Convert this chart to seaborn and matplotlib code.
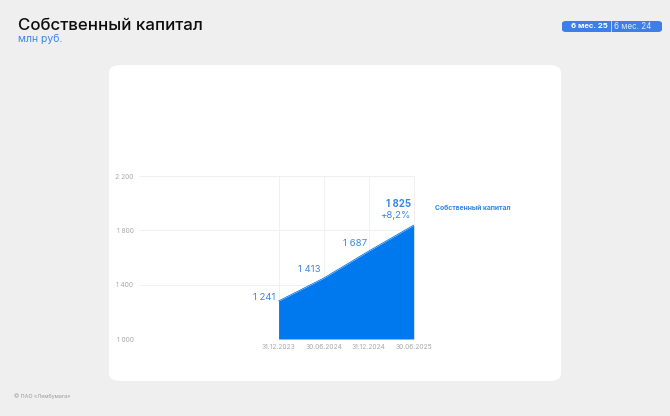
import matplotlib
matplotlib.use("Agg")
import matplotlib.pyplot as plt
from matplotlib.patches import FancyBboxPatch
import seaborn as sns
import pandas as pd

DATES = ["31.12.2023", "30.06.2024", "31.12.2024", "30.06.2025"]
# heights of the drawn area (the printed labels are below)
EQUITY_DRAWN = [1280, 1448, 1647, 1838]
VALUE_LABELS = ["1 241", "1 413", "1 687", "1 825"]
GROWTH_LABEL = "+8,2%"
Y_TICKS = [1000, 1400, 1800, 2200]
Y_TICK_LABELS = ["1 000", "1 400", "1 800", "2 200"]

BG = "#efefef"
FILL = "#0078ee"
LABEL_BLUE = "#3a86e4"
GREY = "#a8a8a8"

sns.set_theme(style="white")
plt.rcParams["font.family"] = ["Inter", "DejaVu Sans"]

data = pd.DataFrame({"pos": range(len(DATES)), "date": DATES, "equity": EQUITY_DRAWN})

fig = plt.figure(figsize=(6.7, 4.16), dpi=100, facecolor=BG)

# white card behind the chart
card = FancyBboxPatch((109 / 670, 1 - 381 / 416), 452 / 670, 316 / 416,
                      boxstyle="round,pad=0,rounding_size=0.018", transform=fig.transFigure,
                      facecolor="white", edgecolor="none", zorder=-5)
fig.patches.append(card)

ax = fig.add_axes([139 / 670, 1 - 339 / 416, 276 / 670, 163 / 416])
ax.set_zorder(2)
ax.set_facecolor("none")
ax.fill_between(data["pos"], 1000, data["equity"], color=FILL, lw=0, zorder=2)
sns.lineplot(data=data, x="pos", y="equity", color=FILL, lw=0.6, ax=ax, zorder=3)

ax.set_xlim(-3.1, 3.03)
ax.set_ylim(1000, 2200)
ax.set_yticks(Y_TICKS, Y_TICK_LABELS)
ax.set_xticks(data["pos"], DATES)
ax.tick_params(axis="both", length=0, labelsize=4.8, labelcolor=GREY)
ax.tick_params(axis="y", pad=4)
ax.tick_params(axis="x", pad=3.5)
ax.grid(True, color="#eeeeee", lw=0.6)
for spine in ax.spines.values():
    spine.set_visible(False)
ax.set_xlabel("")
ax.set_ylabel("")

offsets = [(-2, -1), (-2, 3), (-1, 2.5), (-2, 4)]
for i, (pos, value, text) in enumerate(zip(data["pos"], data["equity"], VALUE_LABELS)):
    dx, dy = offsets[i]
    if i == len(VALUE_LABELS) - 1:
        ax.annotate(GROWTH_LABEL, (pos, value), xytext=(dx, dy), textcoords="offset points",
                    ha="right", va="bottom", fontsize=6.9, color=LABEL_BLUE)
        ax.annotate(text, (pos, value), xytext=(dx, dy + 7.5), textcoords="offset points",
                    ha="right", va="bottom", fontsize=7.0, color=LABEL_BLUE, fontweight="bold")
    else:
        ax.annotate(text, (pos, value), xytext=(dx, dy), textcoords="offset points",
                    ha="right", va="bottom", fontsize=6.9, color=LABEL_BLUE)

fig.text(435 / 670, 1 - 208 / 416, "Собственный капитал", fontsize=4.9, fontweight="bold",
         color=LABEL_BLUE, va="center", ha="left")

# header
fig.text(18 / 670, 1 - 25 / 416, "Собственный капитал", fontsize=12.2, color="#0d0d0d",
         va="center", ha="left", fontweight="medium")
fig.text(18 / 670, 1 - 39 / 416, "млн руб.", fontsize=7.5, color=LABEL_BLUE, va="center", ha="left")

badge = FancyBboxPatch((562 / 670, 1 - 32 / 416), 100 / 670, 11 / 416,
                       boxstyle="round,pad=0,rounding_size=0.006", transform=fig.transFigure,
                       facecolor="#3d7fe6", edgecolor="none")
fig.patches.append(badge)
fig.text(608 / 670, 1 - 26.5 / 416, "6 мес. 25", fontsize=5.6, fontweight="bold", color="white",
         va="center", ha="right")
fig.text(611 / 670, 1 - 26.5 / 416, "|", fontsize=6.2, color="white", va="center", ha="center")
fig.text(614 / 670, 1 - 26.5 / 416, "6 мес. 24", fontsize=5.8, color="#dce8fb", va="center", ha="left")

fig.text(14 / 670, 1 - 396 / 416, "© ПАО «Лембумага»", fontsize=3.9, color="#9a9a9a",
         va="center", ha="left")

fig.savefig("out.png", dpi=100, facecolor=BG)
